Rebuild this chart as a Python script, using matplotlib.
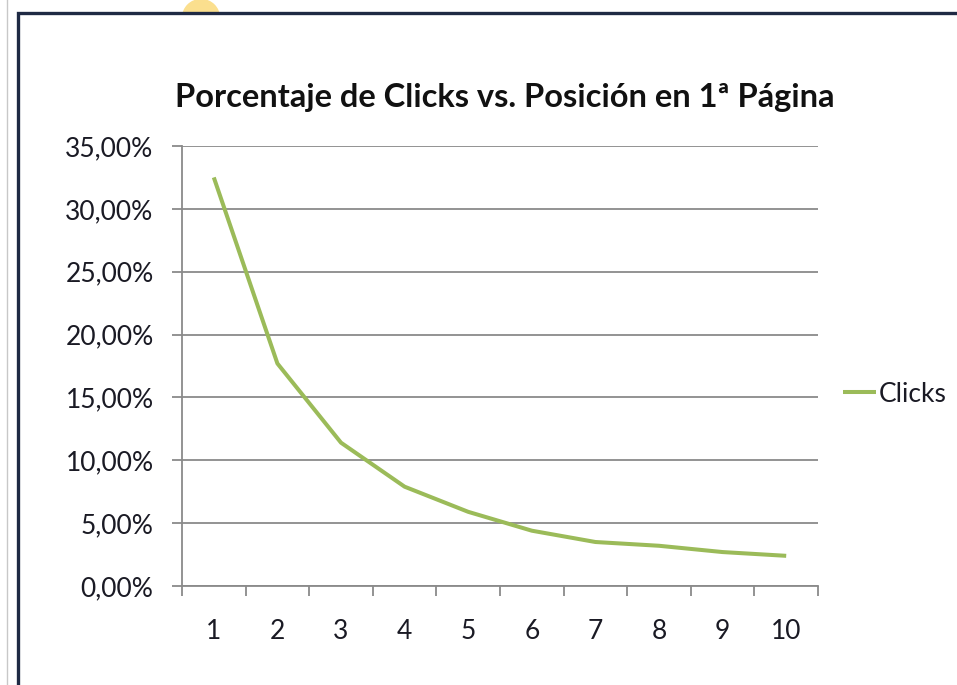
import matplotlib
matplotlib.use('Agg')
import matplotlib.pyplot as plt
from matplotlib.patches import Rectangle, Ellipse
from matplotlib.lines import Line2D
from matplotlib.ticker import FixedLocator, FuncFormatter

# datos
posiciones = [1, 2, 3, 4, 5, 6, 7, 8, 9, 10]
clicks = [32.5, 17.7, 11.4, 7.9, 5.9, 4.4, 3.5, 3.2, 2.7, 2.4]
yticks = [0, 5, 10, 15, 20, 25, 30, 35]
titulo = 'Porcentaje de Clicks vs. Posición en 1ª Página'
serie = 'Clicks'

plt.rcParams['font.family'] = ['Lato', 'DejaVu Sans']
W, H = 957, 685
fig = plt.figure(figsize=(W / 100, H / 100), dpi=100)
fig.patch.set_facecolor('white')

# marco de la captura
fig.add_artist(Line2D([7.5 / W, 7.5 / W], [0, 1], color='#c8c8c8', lw=1, zorder=-3))
fig.add_artist(Ellipse((201 / W, 1 - 18 / H), 37 / W, 37 / H, color='#fbdf8e', zorder=-2))
fig.add_artist(Rectangle((18 / W, -0.1), 1.2, 1 - 13 / H + 0.1, facecolor='white',
                         edgecolor='#1f2a44', lw=2.4, zorder=-1))

ax = fig.add_axes([182 / W, 1 - 586 / H, (818 - 182) / W, (586 - 146) / H])
ax.patch.set_visible(False)

ax.plot(posiciones, clicks, color='#9bbb59', lw=2.9, label=serie,
        solid_capstyle='butt', zorder=3)

ax.set_xlim(0.5, 10.5)
ax.set_ylim(0, 35)
ax.set_yticks(yticks)
ax.yaxis.set_major_formatter(FuncFormatter(lambda v, p: f'{v:.2f}%'.replace('.', ',')))
ax.xaxis.set_major_locator(FixedLocator([p - 0.5 for p in posiciones] + [10.5]))
ax.xaxis.set_minor_locator(FixedLocator(posiciones))
ax.xaxis.set_major_formatter(FuncFormatter(lambda v, p: ''))
ax.xaxis.set_minor_formatter(FuncFormatter(lambda v, p: f'{int(v)}'))

gris = '#8a8a8a'
ax.grid(axis='y', color=gris, lw=1.3)
for s in ['top', 'right']:
    ax.spines[s].set_visible(False)
for s in ['left', 'bottom']:
    ax.spines[s].set_color(gris)
    ax.spines[s].set_linewidth(1.3)
ax.tick_params(axis='both', which='major', direction='out', length=7.5, width=1.3,
               color=gris, labelsize=19, labelcolor='#1a1a24')
ax.tick_params(axis='y', pad=13)
ax.tick_params(axis='x', which='minor', length=0, pad=24, labelsize=19, labelcolor='#1a1a24')

fig.text(505 / W, 1 - 97 / H, titulo, ha='center', va='center', fontsize=23.5,
         fontweight='bold', color='#111111')

ax.legend(loc='center left', bbox_to_anchor=(843 / W, 1 - 394 / H),
          bbox_transform=fig.transFigure, frameon=False, fontsize=19,
          handlelength=1.25, handletextpad=0.1, borderpad=0, borderaxespad=0,
          labelcolor='#1a1a24')

fig.savefig('out.png', dpi=100)
